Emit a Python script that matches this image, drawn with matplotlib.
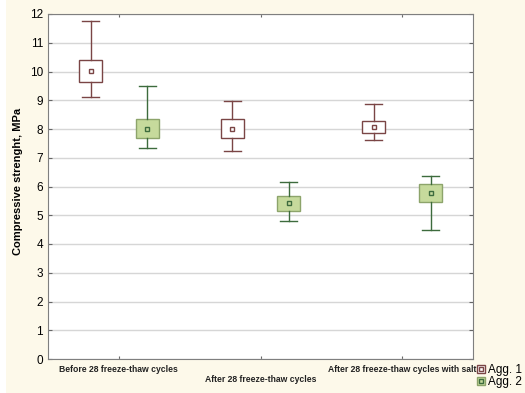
import matplotlib.pyplot as plt
import matplotlib.patches as mpatches
from matplotlib.lines import Line2D
from matplotlib.legend_handler import HandlerTuple

plt.rcParams['font.family'] = ['Liberation Sans', 'DejaVu Sans']

# %%
categories = ['Before 28 freeze-thaw cycles', 'After 28 freeze-thaw cycles',
              'After 28 freeze-thaw cycles with salt']
groups = ['Agg. 1', 'Agg. 2']

# mean, box (low/high), whisker (low/high), MPa
agg1_mean = [10.02, 8.00, 8.07]
agg1_box_lo = [9.65, 7.70, 7.87]
agg1_box_hi = [10.40, 8.34, 8.29]
agg1_whis_lo = [9.12, 7.25, 7.62]
agg1_whis_hi = [11.74, 8.97, 8.86]

agg2_mean = [8.00, 5.42, 5.76]
agg2_box_lo = [7.70, 5.16, 5.45]
agg2_box_hi = [8.34, 5.67, 6.07]
agg2_whis_lo = [7.35, 4.79, 4.48]
agg2_whis_hi = [9.51, 6.16, 6.37]

cream = '#fdf9ea'
red_edge = '#7a4545'
green_face = '#c6da9c'
green_edge = '#8da46b'
green_line = '#3d6b3d'


def make_stats(mean, lo, hi, wlo, whi):
    return [dict(med=m, mean=m, q1=a, q3=b, whislo=c, whishi=d, fliers=[])
            for m, a, b, c, d in zip(mean, lo, hi, wlo, whi)]


fig = plt.figure(figsize=(5.25, 3.93), dpi=100, facecolor='white')
fig.patches.append(mpatches.Rectangle((6 / 525, 0), 1, 1, transform=fig.transFigure,
                                      facecolor=cream, edgecolor='none', zorder=-10))
ax = fig.add_axes([48 / 525, 34 / 393, 425 / 525, 345 / 393])
ax.set_facecolor('white')

pos = list(range(len(categories)))
off = 0.2
w = 0.163

ax.bxp(make_stats(agg1_mean, agg1_box_lo, agg1_box_hi, agg1_whis_lo, agg1_whis_hi),
       positions=[p - off for p in pos], widths=w, capwidths=0.12,
       showmeans=True, patch_artist=True, manage_ticks=False,
       boxprops=dict(facecolor='white', edgecolor=red_edge, linewidth=1),
       whiskerprops=dict(color=red_edge, linewidth=1),
       capprops=dict(color=red_edge, linewidth=1),
       medianprops=dict(linewidth=0),
       meanprops=dict(marker='s', markersize=3.5, markerfacecolor='white',
                      markeredgecolor=red_edge, markeredgewidth=1))
ax.bxp(make_stats(agg2_mean, agg2_box_lo, agg2_box_hi, agg2_whis_lo, agg2_whis_hi),
       positions=[p + off for p in pos], widths=w, capwidths=0.12,
       showmeans=True, patch_artist=True, manage_ticks=False,
       boxprops=dict(facecolor=green_face, edgecolor=green_edge, linewidth=1),
       whiskerprops=dict(color=green_line, linewidth=1),
       capprops=dict(color=green_line, linewidth=1),
       medianprops=dict(linewidth=0),
       meanprops=dict(marker='s', markersize=3.5, markerfacecolor=green_face,
                      markeredgecolor=green_line, markeredgewidth=1))

ax.set_xlim(-0.5, 2.5)
ax.set_ylim(0, 12)
ax.set_yticks(range(0, 13))
ax.set_xticks(pos)
ax.set_xticklabels([categories[0], '\n' + categories[1], categories[2]],
                   fontsize=6.2, fontweight='bold', color='#222222')
ax.tick_params(axis='x', direction='in', top=True, length=2.5, pad=4, color='#666666')
ax.tick_params(axis='y', direction='in', right=True, length=3, labelsize=8.5,
               color='#666666')
ax.grid(axis='y', color='#d6d6d6', linewidth=1)
ax.set_axisbelow(True)
for s in ax.spines.values():
    s.set_color('#7f7f7f')
ax.set_ylabel('Compressive strenght, MPa', fontsize=8, fontweight='bold')
ax.yaxis.set_label_coords(-0.058, (359 - 181) / 345)

h1 = (Line2D([], [], ls='none', marker='s', markersize=6, markerfacecolor='white',
             markeredgecolor=red_edge),
      Line2D([], [], ls='none', marker='s', markersize=2.3, markerfacecolor='white',
             markeredgecolor=red_edge))
h2 = (Line2D([], [], ls='none', marker='s', markersize=6, markerfacecolor=green_face,
             markeredgecolor=green_edge),
      Line2D([], [], ls='none', marker='s', markersize=2.3, markerfacecolor=green_face,
             markeredgecolor=green_line))
fig.legend([h1, h2], groups, handler_map={tuple: HandlerTuple(ndivide=1, pad=0)},
           loc='upper left', bbox_to_anchor=(477 / 525, 1 - 364 / 393),
           frameon=False, fontsize=8.5, handlelength=0.6, handletextpad=0.35,
           labelspacing=0.0, borderpad=0, borderaxespad=0)

fig.savefig('out.png', dpi=100, facecolor=fig.get_facecolor())
